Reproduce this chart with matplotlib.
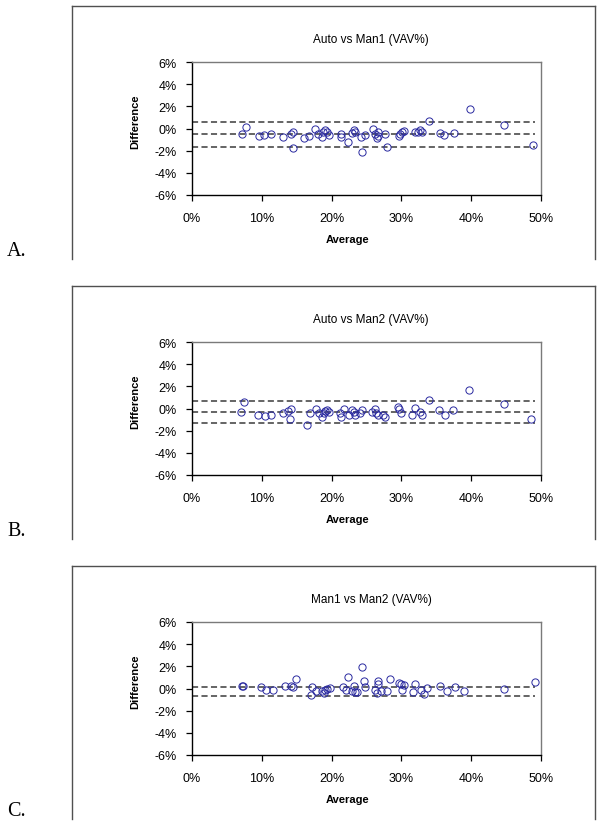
import matplotlib
matplotlib.use("Agg")
import matplotlib.pyplot as plt
from matplotlib.lines import Line2D

plt.rcParams['font.family'] = ['Liberation Sans', 'DejaVu Sans']
plt.rcParams['axes.unicode_minus'] = False

# ---------------- data (percent) ----------------
titles = ["Auto vs Man1 (VAV%)", "Auto vs Man2 (VAV%)", "Man1 vs Man2 (VAV%)"]
panel_labels = ["A.", "B.", "C."]
x_ticks = [0, 10, 20, 30, 40, 50]
y_ticks = [-6, -4, -2, 0, 2, 4, 6]

avg_a = [7.1, 7.7, 9.6, 10.3, 11.3, 13.0, 14.2, 14.4, 14.4, 16.1, 16.8, 17.6, 18.1, 18.6,
         18.8, 19.1, 19.4, 19.6, 21.3, 21.4, 22.4, 22.9, 23.2, 23.4, 24.2, 24.3, 24.8, 26.0,
         26.2, 26.5, 26.7, 26.6, 27.6, 27.9, 29.7, 29.8, 30.1, 30.4, 31.9, 32.4, 32.7, 32.9,
         34.0, 35.6, 36.1, 37.6, 39.8, 44.7, 48.8]
diff_a = [-0.48, 0.18, -0.72, -0.6, -0.54, -0.78, -0.48, -0.36, -1.73, -0.84, -0.66, -0.09,
          -0.48, -0.78, -0.3, -0.18, -0.3, -0.6, -0.54, -0.78, -1.19, -0.42, -0.18, -0.3,
          -0.78, -2.15, -0.6, -0.09, -0.54, -0.84, -0.72, -0.36, -0.54, -1.67, -0.66, -0.48,
          -0.3, -0.24, -0.36, -0.3, -0.18, -0.36, 0.66, -0.42, -0.6, -0.42, 1.8, 0.3, -1.52]
lines_a = [0.63, -0.5, -1.64]

avg_b = [7.0, 7.4, 9.4, 10.4, 11.3, 13.0, 13.7, 14.2, 14.0, 16.5, 16.9, 17.7, 18.2, 18.6,
         18.9, 19.1, 19.4, 19.6, 21.2, 21.3, 21.8, 22.5, 22.9, 23.2, 23.4, 24.3, 24.1, 25.8,
         26.2, 26.4, 26.7, 27.6, 27.4, 29.5, 29.7, 30.0, 31.5, 31.9, 32.7, 33.0, 34.0, 35.4,
         36.2, 37.4, 39.7, 44.7, 48.6]
diff_b = [-0.28, 0.55, -0.62, -0.68, -0.55, -0.37, -0.25, -0.06, -0.92, -1.45, -0.43, -0.06,
          -0.37, -0.8, -0.37, -0.25, -0.12, -0.31, -0.37, -0.74, -0.06, -0.62, -0.12, -0.31,
          -0.55, -0.12, -0.37, -0.31, 0.0, -0.37, -0.55, -0.74, -0.55, 0.12, -0.06, -0.43,
          -0.62, 0.06, -0.31, -0.62, 0.8, -0.12, -0.62, -0.12, 1.66, 0.37, -0.92]
lines_b = [0.65, -0.31, -1.29]

avg_c = [7.2, 7.3, 9.9, 10.6, 11.6, 13.3, 14.2, 14.4, 14.9, 17.0, 17.2, 17.7, 18.6, 18.9,
         19.1, 19.4, 19.8, 21.7, 22.0, 22.4, 22.9, 23.2, 23.3, 23.6, 24.3, 24.7, 24.8, 26.2,
         26.5, 26.6, 26.7, 27.1, 27.9, 28.3, 29.7, 29.9, 30.1, 30.4, 31.7, 31.9, 32.8, 33.2,
         33.6, 35.5, 36.5, 37.7, 38.9, 44.7, 49.1]
diff_c = [0.27, 0.2, 0.15, -0.1, -0.15, 0.27, 0.27, 0.15, 0.82, -0.58, 0.15, -0.2, -0.2, -0.4,
          -0.1, -0.03, 0.03, 0.1, -0.15, 1.0, -0.2, 0.27, -0.33, -0.33, 1.9, 0.7, 0.1, -0.1,
          -0.45, 0.7, 0.4, -0.2, -0.2, 0.82, 0.52, 0.45, -0.1, 0.33, -0.33, 0.45, -0.15, -0.5,
          0.03, 0.2, -0.2, 0.1, -0.2, -0.03, 0.58]
lines_c = [0.15, -0.7]

line_x = [0, 49.2]

# ---------------- figure ----------------
W, H = 601, 829
fig = plt.figure(figsize=(W / 100, H / 100), dpi=100)
fig.patch.set_facecolor('white')

def fx(px):
    return px / W

def fy(py):
    return 1 - py / H

marker_color = '#2a2aa0'
panels = [(avg_a, diff_a, lines_a), (avg_b, diff_b, lines_b), (avg_c, diff_c, lines_c)]

for i, (xs, ds, lims) in enumerate(panels):
    o = 280 * i
    # outer chart box (no bottom edge)
    box_col = '#505050'
    fig.add_artist(Line2D([fx(72), fx(72)], [fy(o + 7), fy(o + 260)], color=box_col, lw=1.0))
    fig.add_artist(Line2D([fx(595), fx(595)], [fy(o + 7), fy(o + 260)], color=box_col, lw=1.0))
    fig.add_artist(Line2D([fx(72), fx(595)], [fy(o + 7), fy(o + 7)], color=box_col, lw=1.0))

    ax = fig.add_axes([fx(192), fy(o + 196), (541 - 192) / W, 133 / H])
    ax.set_xlim(0, 50)
    ax.set_ylim(-6, 6)
    for y in lims:
        ax.plot(line_x, [y, y], color='#3a3a3a', lw=1.1, dashes=(4, 2.2))
    ax.plot(xs, ds, linestyle='none', marker='o', markersize=5.2, mfc='none',
            mec=marker_color, mew=0.7, clip_on=False)

    ax.set_xticks(x_ticks)
    ax.set_xticklabels([f"{v}%" for v in x_ticks])
    ax.set_yticks(y_ticks)
    ax.set_yticklabels([f"{v}%" for v in y_ticks])
    ax.tick_params(axis='both', direction='out', length=4, width=0.9, labelsize=9,
                   colors='black')
    ax.tick_params(axis='x', pad=8)
    ax.tick_params(axis='y', pad=7)
    ax.spines['left'].set_color('black')
    ax.spines['bottom'].set_color('black')
    ax.spines['left'].set_linewidth(1.0)
    ax.spines['bottom'].set_linewidth(1.0)
    ax.spines['top'].set_color('#7a7a7a')
    ax.spines['right'].set_color('#7a7a7a')
    ax.spines['top'].set_linewidth(1.0)
    ax.spines['right'].set_linewidth(1.0)

    fig.text(fx(371), fy(o + 40), titles[i], ha='center', va='center', fontsize=8.5)
    fig.text(fx(135), fy(o + 122), "Difference", ha='center', va='center', rotation=90,
             fontsize=8, fontweight='bold')
    fig.text(fx(348), fy(o + 240), "Average", ha='center', va='center', fontsize=8,
             fontweight='bold')
    fig.text(fx(7), fy(o + 252), panel_labels[i], ha='left', va='center', fontsize=14.5,
             family=['Liberation Serif', 'DejaVu Serif'])

fig.savefig('out.png', dpi=100, facecolor='white')
